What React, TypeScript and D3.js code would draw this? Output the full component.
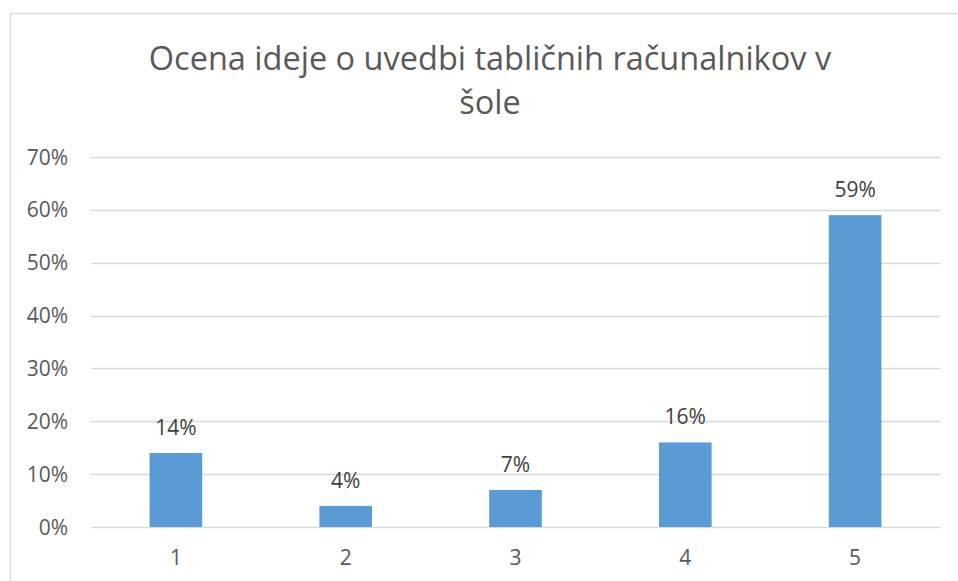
import { useEffect, useRef } from "react";
import * as d3 from "d3";

const categories = ["1", "2", "3", "4", "5"];
const shares = [14, 4, 7, 16, 59];
const yTicks = [0, 10, 20, 30, 40, 50, 60, 70];
const titleLines = ["Ocena ideje o uvedbi tabličnih računalnikov v", "šole"];

export default function App() {
  const svgRef = useRef<SVGSVGElement>(null);

  useEffect(() => {
    if (!svgRef.current) return;
    const font = "'Open Sans', 'Noto Sans', sans-serif";

    const svg = d3.select(svgRef.current);
    svg.selectAll("*").remove();

    // chart frame, runs off the right and bottom edges
    svg
      .append("rect")
      .attr("x", 10.5)
      .attr("y", 13.5)
      .attr("width", 970)
      .attr("height", 600)
      .attr("fill", "#fff")
      .attr("stroke", "#D9D9D9")
      .attr("stroke-width", 1.3);

    const x = d3.scaleBand().domain(categories).range([91, 940]).paddingInner(0.69).paddingOuter(0.345);
    const y = d3.scaleLinear().domain([0, 70]).range([527, 157]);

    svg
      .selectAll(".grid")
      .data(yTicks)
      .enter()
      .append("line")
      .attr("x1", 91)
      .attr("x2", 940)
      .attr("y1", (d) => Math.round(y(d)) + 0.5)
      .attr("y2", (d) => Math.round(y(d)) + 0.5)
      .attr("stroke", "#D9D9D9")
      .attr("stroke-width", 1.3);

    svg
      .selectAll(".ytick")
      .data(yTicks)
      .enter()
      .append("text")
      .attr("x", 68)
      .attr("y", (d) => y(d))
      .attr("dy", "0.36em")
      .attr("text-anchor", "end")
      .attr("font-family", font)
      .attr("font-size", 21)
      .attr("fill", "#595959")
      .text((d) => d + "%");

    svg
      .selectAll(".bar")
      .data(shares)
      .enter()
      .append("rect")
      .attr("x", (_, i) => x(categories[i])!)
      .attr("y", (d) => y(d))
      .attr("width", x.bandwidth())
      .attr("height", (d) => y(0) - y(d))
      .attr("fill", "#5B9BD5");

    svg
      .selectAll(".label")
      .data(shares)
      .enter()
      .append("text")
      .attr("x", (_, i) => x(categories[i])! + x.bandwidth() / 2)
      .attr("y", (d) => y(d) - 18)
      .attr("text-anchor", "middle")
      .attr("font-family", font)
      .attr("font-size", 21)
      .attr("fill", "#404040")
      .text((d) => d + "%");

    svg
      .selectAll(".xtick")
      .data(categories)
      .enter()
      .append("text")
      .attr("x", (d) => x(d)! + x.bandwidth() / 2)
      .attr("y", 565)
      .attr("text-anchor", "middle")
      .attr("font-family", font)
      .attr("font-size", 21)
      .attr("fill", "#595959")
      .text((d) => d);

    svg
      .selectAll(".title")
      .data(titleLines)
      .enter()
      .append("text")
      .attr("x", 490)
      .attr("y", (_, i) => 70 + i * 44)
      .attr("text-anchor", "middle")
      .attr("font-family", font)
      .attr("font-size", 32.5)
      .attr("fill", "#595959")
      .text((d) => d);
  }, []);

  return (
    <svg
      ref={svgRef}
      width={958}
      height={581}
      style={{ position: "absolute", left: 0, top: 0, display: "block" }}
    />
  );
}
